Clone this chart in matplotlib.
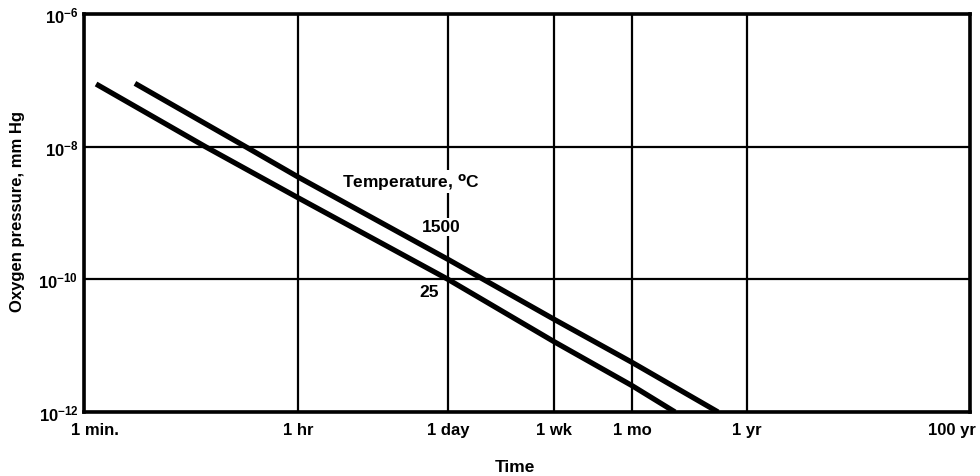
import numpy as np
import matplotlib
matplotlib.use('Agg')
import matplotlib.pyplot as plt
from matplotlib.transforms import ScaledTranslation

plt.rcParams['font.family'] = ['Liberation Sans', 'DejaVu Sans']
plt.rcParams['font.weight'] = 'bold'
plt.rcParams['mathtext.fontset'] = 'custom'
plt.rcParams['mathtext.rm'] = 'Liberation Sans:bold'
plt.rcParams['mathtext.default'] = 'rm'

# ---- data ----
tick_minutes = [1, 60, 1440, 10080, 43200, 525600, 52560000]
tick_labels = ['1 min.', '1 hr', '1 day', '1 wk', '1 mo', '1 yr', '100 yr']
y_ticks = [1e-12, 1e-10, 1e-8, 1e-6]
y_labels = [r'$10^{-12}$', r'$10^{-10}$', r'$10^{-8}$', r'$10^{-6}$']

t_25 = [1.26, 10.2, 60, 1440, 10080, 43200, 1.1e5]
p_25 = [8.8e-8, 1e-8, 1.7e-9, 1e-10, 1.15e-11, 2.5e-12, 1e-12]
t_1500 = [2.65, 22, 60, 1440, 10080, 43200, 2.8e5]
p_1500 = [9e-8, 1e-8, 3.5e-9, 2.0e-10, 2.5e-11, 5.6e-12, 1e-12]

# ---- hand-drawn time axis: tick placement along the axis (fraction) ----
anchor_frac = [0.0, 0.2415, 0.4108, 0.5305, 0.6185, 0.7483, 1.0]
Lx = np.log10(tick_minutes)
Fx = np.array(anchor_frac)
s0 = (Fx[1] - Fx[0]) / (Lx[1] - Lx[0])
s1 = (Fx[-1] - Fx[-2]) / (Lx[-1] - Lx[-2])
Lx_ext = np.concatenate([[Lx[0] - 50], Lx, [Lx[-1] + 50]])
Fx_ext = np.concatenate([[Fx[0] - 50 * s0], Fx, [Fx[-1] + 50 * s1]])


def fwd(t):
    lt = np.log10(np.clip(np.asarray(t, dtype=float), 1e-300, None))
    return np.interp(lt, Lx_ext, Fx_ext)


def inv(f):
    return 10 ** np.interp(np.asarray(f, dtype=float), Fx_ext, Lx_ext)


fig = plt.figure(figsize=(9.8, 4.77), dpi=100)
ax = fig.add_axes([84 / 980, 1 - 413 / 477, 886 / 980, 398 / 477])
ax.set_xscale('function', functions=(fwd, inv))
ax.set_yscale('log')
ax.set_xlim(1, 52560000)
ax.set_ylim(1e-12, 1e-6)

ax.set_xticks(tick_minutes)
ax.set_xticklabels(tick_labels)
ax.set_yticks(y_ticks)
ax.set_yticklabels(y_labels)
ax.yaxis.set_minor_locator(matplotlib.ticker.NullLocator())
ax.xaxis.set_minor_locator(matplotlib.ticker.NullLocator())
ax.tick_params(axis='both', length=0, labelsize=12)
ax.tick_params(axis='x', pad=7)
ax.tick_params(axis='y', pad=4)

labels = ax.get_xticklabels()
labels[0].set_transform(labels[0].get_transform() + ScaledTranslation(11 / 100, 0, fig.dpi_scale_trans))
labels[-1].set_transform(labels[-1].get_transform() + ScaledTranslation(-18 / 100, 0, fig.dpi_scale_trans))

ax.grid(True, which='major', color='black', linewidth=1.6)
ax.set_axisbelow(True)
for sp in ax.spines.values():
    sp.set_linewidth(2.6)

ax.plot(t_25, p_25, color='black', linewidth=3.8, solid_capstyle='butt', zorder=3)
ax.plot(t_1500, p_1500, color='black', linewidth=3.8, solid_capstyle='butt', zorder=3)

bb = dict(facecolor='white', edgecolor='none', pad=1.0)
ax.text(0.369, 0.578, 'Temperature, $^{\\mathsf{o}}$C', transform=ax.transAxes,
        ha='center', va='center', fontsize=12.5, fontweight='bold', bbox=bb, zorder=4)
ax.text(0.403, 0.465, '1500', transform=ax.transAxes, ha='center', va='center',
        fontsize=12.5, fontweight='bold', bbox=bb, zorder=4)
ax.text(0.389, 0.302, '25', transform=ax.transAxes, ha='center', va='center',
        fontsize=12.5, fontweight='bold', zorder=4)

fig.text(18 / 980, 1 - 212 / 477, 'Oxygen pressure, mm Hg', rotation=90,
         ha='center', va='center', fontsize=12, fontweight='bold')
fig.text(515 / 980, 1 - 468 / 477, 'Time', ha='center', va='center',
         fontsize=12.5, fontweight='bold')

fig.savefig('out.png', dpi=100, facecolor='white')
